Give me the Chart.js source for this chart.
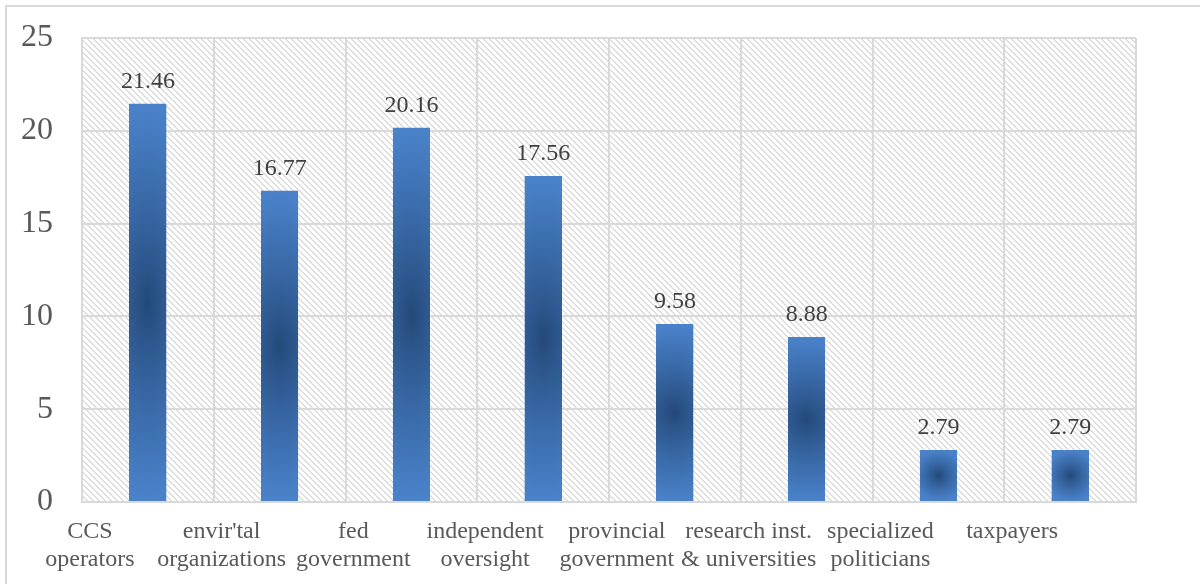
<!DOCTYPE html>
<html lang="en">
<head>
    <meta charset="UTF-8">
    <title>Stakeholder scores</title>
    <script src="https://cdn.jsdelivr.net/npm/chart.js"></script>
    <style>
        body {
            margin: 0;
            padding: 0;
            background: #ffffff;
            overflow: hidden;
        }
        .wrap {
            position: relative;
            width: 1200px;
            height: 584px;
        }
        .frame {
            position: absolute;
            left: 5px;
            top: 5px;
            width: 1200px;
            height: 600px;
            border-top: 2px solid #d9d9d9;
            border-left: 2px solid #d9d9d9;
            pointer-events: none;
        }
        canvas {
            position: absolute;
            left: 0;
            top: 0;
        }
    </style>
</head>
<body>
    <div class="wrap">
        <canvas id="scoreChart" width="1200" height="584"></canvas>
        <div class="frame"></div>
    </div>

    <script>
        const groups = [
            ["CCS", "operators"],
            ["envir'tal", "organizations"],
            ["fed", "government"],
            ["independent", "oversight"],
            ["provincial", "government"],
            ["research inst.", "& universities"],
            ["specialized", "politicians"],
            ["taxpayers"]
        ];
        const scores = [21.46, 16.77, 20.16, 17.56, 9.58, 8.88, 2.79, 2.79];
        const yTicks = [0, 5, 10, 15, 20, 25];

        const serif = "'Liberation Serif', 'Times New Roman', serif";

        // light grey downward diagonal hatch for the plot background
        function makeHatch(ctx) {
            const c = document.createElement("canvas");
            c.width = 6;
            c.height = 6;
            const p = c.getContext("2d");
            p.fillStyle = "#ffffff";
            p.fillRect(0, 0, 6, 6);
            p.fillStyle = "#dedede";
            for (let y = 0; y < 6; y++) {
                for (let x = 0; x < 6; x++) {
                    if (((x - y) % 6 + 6) % 6 < 2) p.fillRect(x, y, 1, 1);
                }
            }
            return ctx.createPattern(c, "repeat");
        }

        // "from centre" shading: dark in the middle, lighter toward the edges
        const light = [74, 130, 202];
        const dark = [35, 72, 120];
        function shadeBar(w, h) {
            const c = document.createElement("canvas");
            c.width = Math.max(1, Math.round(w));
            c.height = Math.max(1, Math.round(h));
            const p = c.getContext("2d");
            const img = p.createImageData(c.width, c.height);
            const hw = c.width / 2, hh = c.height / 2;
            const sx = c.height < 80 ? 0.5 : 0.06;
            for (let y = 0; y < c.height; y++) {
                for (let x = 0; x < c.width; x++) {
                    const dx = Math.abs(x + 0.5 - hw) / hw;
                    const dy = Math.abs(y + 0.5 - hh) / hh;
                    let t = Math.min(1, Math.sqrt(dx * dx * sx + dy * dy));
                    t = Math.pow(t, 0.85);
                    const i = (y * c.width + x) * 4;
                    img.data[i] = dark[0] + (light[0] - dark[0]) * t;
                    img.data[i + 1] = dark[1] + (light[1] - dark[1]) * t;
                    img.data[i + 2] = dark[2] + (light[2] - dark[2]) * t;
                    img.data[i + 3] = 255;
                }
            }
            p.putImageData(img, 0, 0);
            return c;
        }

        const plotBackground = {
            id: "plotBackground",
            beforeDraw(chart) {
                const { ctx, chartArea: a } = chart;
                ctx.save();
                ctx.fillStyle = makeHatch(ctx);
                ctx.fillRect(a.left, a.top, a.right - a.left, a.bottom - a.top);
                ctx.restore();
            }
        };

        const barShading = {
            id: "barShading",
            afterDatasetsDraw(chart) {
                const ctx = chart.ctx;
                const meta = chart.getDatasetMeta(0);
                ctx.save();
                meta.data.forEach((bar) => {
                    const left = bar.x - bar.width / 2;
                    const top = Math.min(bar.y, bar.base);
                    const h = Math.abs(bar.base - bar.y);
                    ctx.drawImage(shadeBar(bar.width, h), Math.round(left), Math.round(top));
                });
                // value labels above each bar
                ctx.font = "24px " + serif;
                ctx.fillStyle = "#404040";
                ctx.textAlign = "center";
                ctx.textBaseline = "alphabetic";
                meta.data.forEach((bar, i) => {
                    ctx.fillText(scores[i].toFixed(2), bar.x, bar.y - 16);
                });
                ctx.restore();
            }
        };

        const ctx = document.getElementById("scoreChart").getContext("2d");

        new Chart(ctx, {
            type: "bar",
            data: {
                labels: groups,
                datasets: [{
                    data: scores,
                    backgroundColor: "#487fc6",
                    borderWidth: 0,
                    barPercentage: 0.56,
                    categoryPercentage: 0.5
                }]
            },
            options: {
                responsive: false,
                animation: false,
                events: [],
                layout: {
                    padding: { top: 38, right: 64, bottom: 0, left: 0 }
                },
                plugins: {
                    legend: { display: false },
                    tooltip: { enabled: false }
                },
                scales: {
                    x: {
                        grid: {
                            color: "#d9d9d9",
                            lineWidth: 2,
                            drawTicks: false
                        },
                        border: { color: "#d9d9d9", width: 2 },
                        ticks: {
                            color: "#595959",
                            font: { family: serif, size: 24, lineHeight: 1.15 },
                            padding: 16,
                            labelOffset: -58,
                            maxRotation: 0,
                            autoSkip: false
                        },
                        afterFit(scale) {
                            scale.height = 82;
                        }
                    },
                    y: {
                        min: 0,
                        max: 25,
                        afterBuildTicks(scale) {
                            scale.ticks = yTicks.map(v => ({ value: v }));
                        },
                        grid: {
                            color: "#d9d9d9",
                            lineWidth: 2,
                            drawTicks: true,
                            tickLength: 29,
                            tickColor: "rgba(0,0,0,0)"
                        },
                        border: { color: "#d9d9d9", width: 2 },
                        ticks: {
                            color: "#595959",
                            font: { family: serif, size: 32 },
                            padding: 0
                        },
                        afterFit(scale) {
                            scale.width = 82;
                        }
                    }
                }
            },
            plugins: [plotBackground, barShading]
        });
    </script>
</body>
</html>
